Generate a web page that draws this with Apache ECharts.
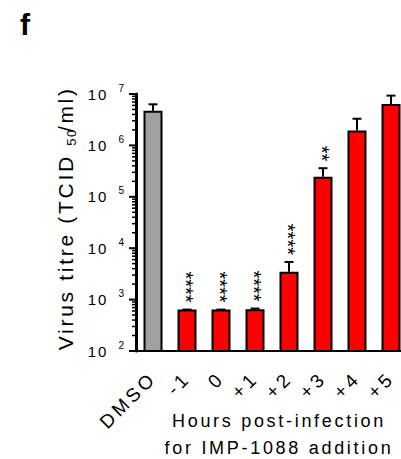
<!DOCTYPE html>
<html><head><meta charset="utf-8">
<script src="https://cdn.jsdelivr.net/npm/echarts@6/dist/echarts.min.js"></script>
<style>
html,body{margin:0;padding:0;background:#fff;}
#main{width:401px;height:459px;}
#main svg text{letter-spacing:0;}
#main svg text[style*="15px"]{letter-spacing:2px;}
#main svg text[style*="13px"]{letter-spacing:1.5px;}
#main svg text[style*="18px"]{letter-spacing:2.7px;}
#main svg text[style*="19px"]{letter-spacing:3.5px;}
#main svg text[style*="21px"]{letter-spacing:2.7px;}
</style></head><body><div id="main"></div>
<script>
// ---- data ----
const categories = ['DMSO', '-1', '0', '+1', '+2', '+3', '+4', '+5'];
const titres = [4.7e6, 640, 640, 650, 3500, 2.45e5, 1.95e6, 6.4e6];
const errorTops = [6.3e6, 640, 640, 670, 5400, 3.6e5, 3.3e6, 9.3e6];
const significance = ['', '****', '****', '****', '****', '**', '', ''];
const yTicks = [1e2, 1e3, 1e4, 1e5, 1e6, 1e7];
const yMinorTicks = [];
for (let k = 2; k < 7; k++) for (let m = 2; m <= 9; m++) yMinorTicks.push(m * Math.pow(10, k));

const FF = 'Liberation Sans, Arial, Helvetica, sans-serif';
const chart = echarts.init(document.getElementById('main'), null, {renderer: 'svg'});

const errData = titres.map((v, i) => [i, v, errorTops[i]]);
const sigData = errorTops.map((v, i) => [i, v]);

function tickSeries(values, len, width) {
  return {
    type: 'custom', data: values.map(v => [0, v]), z: 5, clip: false, silent: true,
    renderItem: (params, api) => {
      const y = api.coord([0, api.value(1)])[1];
      const x = params.coordSys.x;
      return {type: 'line', shape: {x1: x - len, y1: y, x2: x, y2: y}, style: {stroke: '#000', lineWidth: width}};
    }
  };
}

chart.setOption({
  animation: false,
  title: {text: 'f', left: 15, top: 4, textStyle: {fontSize: 30, fontWeight: 'bold', fontFamily: FF, color: '#000'}},
  grid: {left: 136, right: -7, top: 94, bottom: 108, outerBoundsMode: 'none', containLabel: false},
  xAxis: {
    type: 'category', data: categories,
    axisLine: {lineStyle: {color: '#000', width: 2}},
    axisTick: {alignWithLabel: true, length: 6, lineStyle: {color: '#000', width: 2}},
    axisLabel: {rotate: 45, fontSize: 19, color: '#000', fontFamily: FF, margin: 24, interval: 0},
    name: 'Hours post-infection\nfor IMP-1088 addition',
    nameLocation: 'middle', nameGap: 56, nameMoveOverlap: false,
    nameTextStyle: {fontSize: 18, lineHeight: 27, color: '#000', fontFamily: FF, padding: [0, 0, 0, 14]}
  },
  yAxis: {
    type: 'log', logBase: 10, min: 1e2, max: 1e7, position: 'left',
    splitLine: {show: false},
    axisLine: {show: true, lineStyle: {color: '#000', width: 3}},
    axisTick: {show: false},
    axisLabel: {
      customValues: yTicks, margin: 12,
      formatter: v => '{b|10}{e|' + Math.round(Math.log10(v)) + '}',
      rich: {
        b: {fontSize: 15, lineHeight: 22, color: '#000', fontFamily: FF},
        e: {fontSize: 10, lineHeight: 10, verticalAlign: 'top', color: '#000', fontFamily: FF, padding: [0, 0, 0, 10]}
      }
    },
    name: '{a|Virus titre (TCID}{s|50}{c|/ml)}',
    nameLocation: 'middle', nameGap: 58, nameRotate: 90, nameMoveOverlap: false,
    nameTextStyle: {
      rich: {
        a: {fontSize: 21, lineHeight: 25, color: '#000', fontFamily: FF, padding: [0, 0, 0, 26]},
        s: {fontSize: 13, lineHeight: 15, verticalAlign: 'bottom', color: '#000', fontFamily: FF, padding: [0, 0, 0, 33]},
        c: {fontSize: 21, lineHeight: 25, color: '#000', fontFamily: FF, padding: [0, 0, 0, 3]}
      }
    }
  },
  series: [{
    type: 'bar', data: titres, barWidth: 19, clip: true,
    itemStyle: {
      color: p => p.dataIndex === 0 ? '#a0a0a4' : '#ff0000',
      borderColor: '#000', borderWidth: 2
    },
    z: 2
  }, {
    type: 'custom', data: errData, z: 1,
    renderItem: (params, api) => {
      const i = api.value(0);
      const p0 = api.coord([i, api.value(1)]);
      const p1 = api.coord([i, api.value(2)]);
      const hw = 4.5;
      return {
        type: 'group', children: [
          {type: 'line', shape: {x1: p0[0], y1: p0[1], x2: p1[0], y2: p1[1]}, style: {stroke: '#000', lineWidth: 2}},
          {type: 'line', shape: {x1: p1[0] - hw, y1: p1[1], x2: p1[0] + hw, y2: p1[1]}, style: {stroke: '#000', lineWidth: 2}}
        ]
      };
    }
  }, {
    type: 'custom', data: sigData, z: 3,
    renderItem: (params, api) => {
      const i = api.value(0);
      const p = api.coord([i, api.value(1)]);
      return {
        type: 'text', x: p[0] - 1, y: p[1] - 7, rotation: -Math.PI / 2,
        style: {text: significance[params.dataIndex], textAlign: 'right', textVerticalAlign: 'middle', fontSize: 20, fontFamily: FF, fill: '#000'}
      };
    }
  },
  tickSeries(yTicks, 7, 2),
  tickSeries(yMinorTicks, 4, 1.5)
  ]
});
</script></body></html>
